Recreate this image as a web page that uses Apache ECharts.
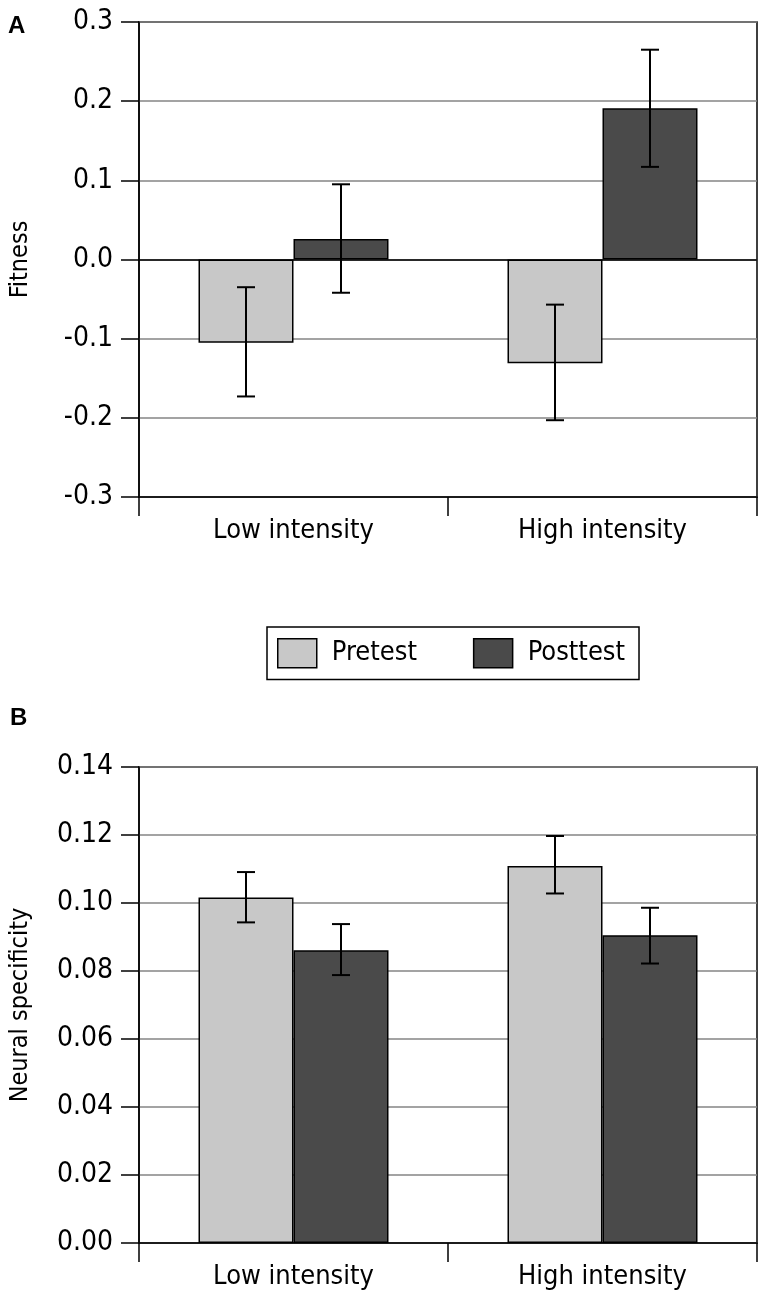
<!DOCTYPE html>
<html>
<head>
<meta charset="utf-8">
<script src="https://cdn.jsdelivr.net/npm/echarts@6/dist/echarts.min.js"></script>
<style>
  html, body { margin: 0; padding: 0; background: #fff; }
  #main { width: 768px; height: 1300px; }
</style>
</head>
<body>
<div id="main"></div>
<script>
// data
var categories = ['Low intensity', 'High intensity'];

var fitnessPre = [-0.105, -0.131];
var fitnessPreLow = [-0.173, -0.203];
var fitnessPreHigh = [-0.035, -0.057];
var fitnessPost = [0.026, 0.191];
var fitnessPostLow = [-0.042, 0.117];
var fitnessPostHigh = [0.095, 0.265];

var neuralPre = [0.1016, 0.1109];
var neuralPreLow = [0.0943, 0.1028];
var neuralPreHigh = [0.1091, 0.1197];
var neuralPost = [0.0861, 0.0905];
var neuralPostLow = [0.0788, 0.0822];
var neuralPostHigh = [0.0938, 0.0986];

var fitnessTicks = { min: -0.3, max: 0.3, interval: 0.1 };
var neuralTicks = { min: 0, max: 0.14, interval: 0.02 };

var font = '"Liberation Sans Narrow", "DejaVu Sans Condensed", sans-serif';
var barW = 95;
var preColor = '#c8c8c8';
var postColor = '#4a4a4a';

var myChart = echarts.init(document.getElementById('main'));

// error bars drawn through the axis coordinates
function errorSeries(axisIdx, lows, highs, side) {
    var data = lows.map(function (lo, i) { return [i, lo, highs[i]]; });
    return {
        type: 'custom',
        xAxisIndex: axisIdx,
        yAxisIndex: axisIdx,
        silent: true,
        z: 10,
        data: data,
        renderItem: function (params, api) {
            var lo = api.coord([api.value(0), api.value(1)]);
            var hi = api.coord([api.value(0), api.value(2)]);
            var x = lo[0] + side * barW / 2;
            var cap = 9;
            var style = { stroke: '#000', lineWidth: 2 };
            return {
                type: 'group',
                children: [
                    { type: 'line', shape: { x1: x, y1: lo[1], x2: x, y2: hi[1] }, style: style },
                    { type: 'line', shape: { x1: x - cap, y1: lo[1], x2: x + cap, y2: lo[1] }, style: style },
                    { type: 'line', shape: { x1: x - cap, y1: hi[1], x2: x + cap, y2: hi[1] }, style: style }
                ]
            };
        }
    };
}

function barSeries(axisIdx, name, values, color) {
    return {
        name: name,
        type: 'bar',
        xAxisIndex: axisIdx,
        yAxisIndex: axisIdx,
        barWidth: barW,
        barGap: '0%',
        data: values,
        itemStyle: { color: color, borderColor: '#000', borderWidth: 1.5 }
    };
}

function catAxis(gridIdx) {
    return {
        type: 'category',
        gridIndex: gridIdx,
        data: categories,
        position: 'bottom',
        axisLine: { onZero: false, lineStyle: { color: '#000', width: 1.5 } },
        axisTick: { show: true, alignWithLabel: false, length: 19, lineStyle: { color: '#000', width: 1.5 } },
        axisLabel: { color: '#000', fontFamily: font, fontSize: 27, margin: 20 }
    };
}

function valAxis(gridIdx, ticks, name, digits) {
    return {
        type: 'value',
        gridIndex: gridIdx,
        min: ticks.min,
        max: ticks.max,
        interval: ticks.interval,
        name: name,
        nameLocation: 'middle',
        nameRotate: 90,
        nameGap: 106,
        nameTextStyle: { color: '#000', fontFamily: font, fontSize: 25 },
        axisLine: { show: true, lineStyle: { color: '#000', width: 1.5 } },
        axisTick: { show: true, length: 18, lineStyle: { color: '#000', width: 1.5 } },
        axisLabel: {
            color: '#000', fontFamily: font, fontSize: 28, margin: 26,
            formatter: function (v) { return v.toFixed(digits); }
        },
        splitLine: { show: true, lineStyle: { color: '#858585', width: 1.5 } }
    };
}

var fitPost = barSeries(0, 'Posttest', fitnessPost, postColor);
fitPost.markLine = {
    silent: true,
    symbol: 'none',
    label: { show: false },
    lineStyle: { color: '#000', width: 1.5, type: 'solid' },
    data: [{ yAxis: 0 }]
};

var titleStyle = { fontFamily: '"Liberation Sans", Arial, sans-serif', fontWeight: 'bold', fontSize: 24, color: '#000' };

var option = {
    animation: false,
    title: [
        { text: 'A', left: 8, top: 14, padding: 0, textStyle: titleStyle },
        { text: 'B', left: 10, top: 706, padding: 0, textStyle: titleStyle }
    ],
    legend: {
        data: ['Pretest', 'Posttest'],
        left: 267,
        top: 627,
        orient: 'horizontal',
        padding: [11, 14, 11, 10],
        borderColor: '#000',
        borderWidth: 1.5,
        itemWidth: 39,
        itemHeight: 29,
        itemGap: 56,
        icon: 'rect',
        itemStyle: { borderColor: '#000', borderWidth: 1.5 },
        textStyle: { color: '#000', fontFamily: font, fontSize: 27, padding: [0, 0, 0, 10] }
    },
    grid: [
        { left: 138, right: 11, top: 22, height: 475, show: true, borderColor: '#000', borderWidth: 1.5, backgroundColor: 'transparent' },
        { left: 138, right: 11, top: 767, height: 476, show: true, borderColor: '#000', borderWidth: 1.5, backgroundColor: 'transparent' }
    ],
    xAxis: [catAxis(0), catAxis(1)],
    yAxis: [
        valAxis(0, fitnessTicks, 'Fitness', 1),
        valAxis(1, neuralTicks, 'Neural specificity', 2)
    ],
    series: [
        barSeries(0, 'Pretest', fitnessPre, preColor),
        fitPost,
        barSeries(1, 'Pretest', neuralPre, preColor),
        barSeries(1, 'Posttest', neuralPost, postColor),
        errorSeries(0, fitnessPreLow, fitnessPreHigh, -1),
        errorSeries(0, fitnessPostLow, fitnessPostHigh, 1),
        errorSeries(1, neuralPreLow, neuralPreHigh, -1),
        errorSeries(1, neuralPostLow, neuralPostHigh, 1)
    ]
};

myChart.setOption(option);
</script>
</body>
</html>
